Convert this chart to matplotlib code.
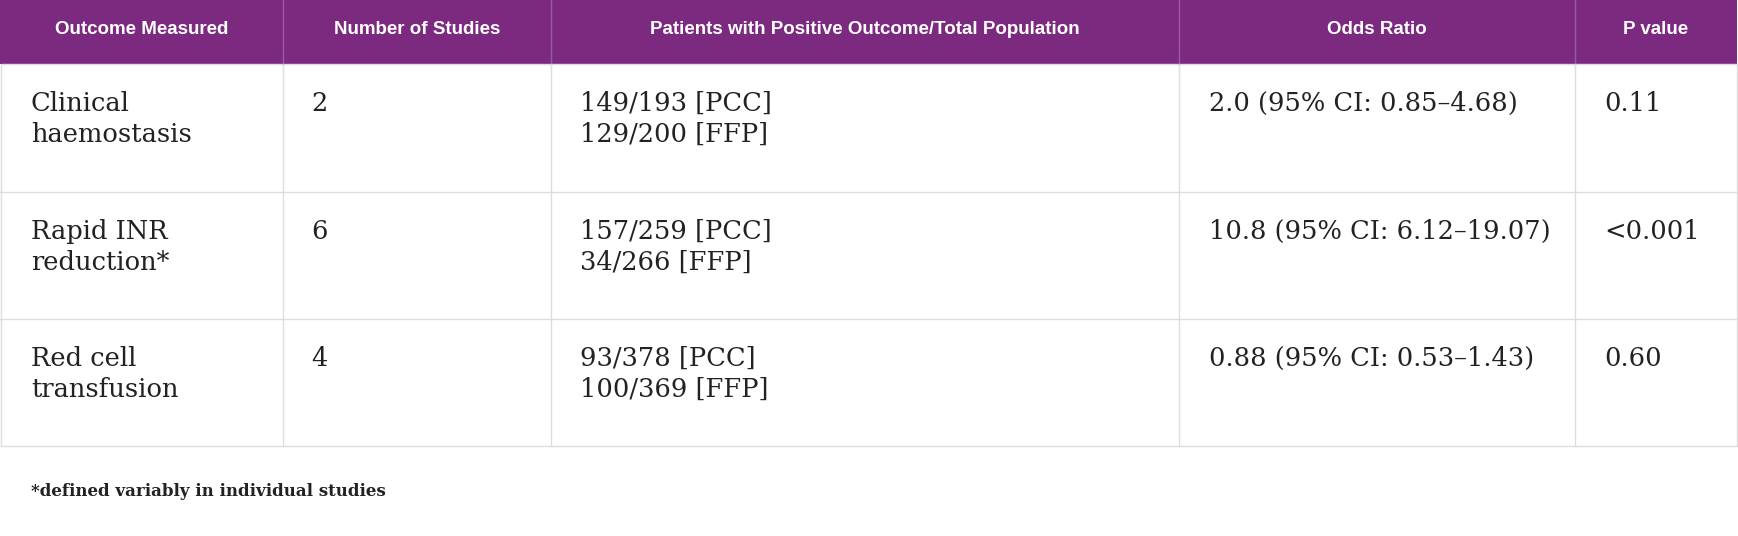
import matplotlib
matplotlib.use("Agg")
import matplotlib.pyplot as plt
from matplotlib.patches import Rectangle

headers = ["Outcome Measured", "Number of Studies", "Patients with Positive Outcome/Total Population", "Odds Ratio", "P value"]
outcomes = ["Clinical\nhaemostasis", "Rapid INR\nreduction*", "Red cell\ntransfusion"]
studies = ["2", "6", "4"]
patients = ["149/193 [PCC]\n129/200 [FFP]", "157/259 [PCC]\n34/266 [FFP]", "93/378 [PCC]\n100/369 [FFP]"]
odds = ["2.0 (95% CI: 0.85\u20134.68)", "10.8 (95% CI: 6.12\u201319.07)", "0.88 (95% CI: 0.53\u20131.43)"]
pvals = ["0.11", "<0.001", "0.60"]
footnote = "*defined variably in individual studies"

W, H = 1738, 536
fig = plt.figure(figsize=(W/100, H/100), dpi=100)
ax = fig.add_axes([0, 0, 1, 1])
ax.set_xlim(0, W); ax.set_ylim(H, 0); ax.axis("off")

cols = [0, 283, 551, 1179, 1575, 1737]
rows = [0, 64, 192, 319, 446]
purple = "#7B2A80"
grid = "#dddddd"

ax.add_patch(Rectangle((0, 0), cols[-1], rows[1], color=purple, lw=0))
for i, h in enumerate(headers):
    ax.text((cols[i]+cols[i+1])/2, 29, h, color="white", fontsize=13.5, fontweight="bold",
            family="Liberation Sans", ha="center", va="center")
    if i > 0:
        ax.plot([cols[i]]*2, [0, rows[1]], color="#9a5a9e", lw=1)

ax.add_patch(Rectangle((0.5, rows[1]), cols[-1]-1, rows[-1]-rows[1], fill=False, ec=grid, lw=1))
for r in rows[2:-1]:
    ax.plot([0, cols[-1]], [r, r], color=grid, lw=1)
for c in cols[1:-1]:
    ax.plot([c, c], [rows[1], rows[-1]], color=grid, lw=1)

offs = [31, 28, 29, 30, 29]
for j in range(3):
    y = rows[j+1] + 27
    vals = [outcomes[j], studies[j], patients[j], odds[j], pvals[j]]
    for i, v in enumerate(vals):
        ax.text(cols[i]+offs[i], y, v, fontsize=18.5, family="DejaVu Serif", color="#222222",
                ha="left", va="top", linespacing=1.3)

ax.text(31, 491, footnote, fontsize=12, fontweight="bold", family="DejaVu Serif",
        color="#222222", ha="left", va="center")

fig.savefig("out.png", dpi=100, facecolor="white")
